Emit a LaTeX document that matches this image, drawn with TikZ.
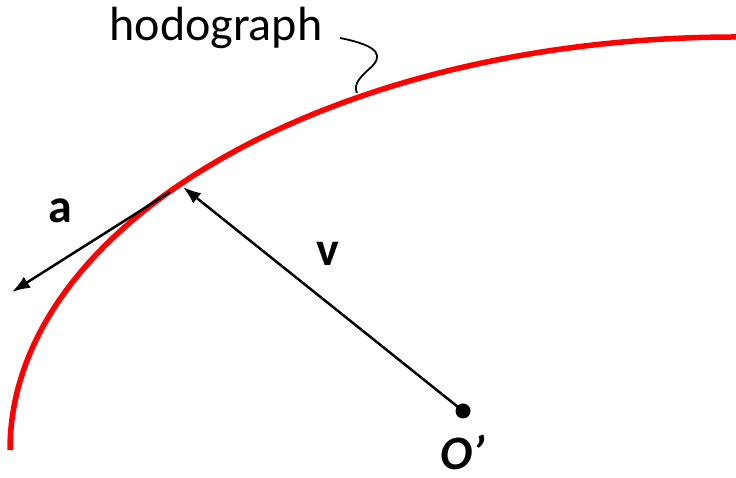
\documentclass[tikz,border=0pt]{standalone}
\usepackage{fontspec}
\setmainfont{Carlito}
\usetikzlibrary{arrows.meta}
\begin{document}
\begin{tikzpicture}[x=1pt,y=1pt,
  vec/.style={line width=2.5pt,-{Latex[length=18pt,width=13pt]}},
  lbl/.style={inner sep=0pt,font=\fontsize{48}{52}\selectfont\bfseries},
  hodo/.style={red,line width=5.5pt}]
\useasboundingbox (0,0) rectangle (736,478);
\draw[hodo] (736,441) arc[start angle=90,end angle=180,x radius=726,y radius=413];
\coordinate (P) at (183,291);
\coordinate (Pa) at (170,286);
\coordinate (A) at (12,186);
\node[circle,fill=black,inner sep=0pt,minimum size=15pt] (O) at (463,67) {};
\draw[vec] (O.center) -- (P);
\draw[vec] (Pa) -- (A);
\node[lbl] (la) at (60,267) {a};
\node[lbl] (lv) at (328,224) {v};
\node[lbl,font=\fontsize{48}{52}\selectfont\bfseries\itshape] (lo) at (463,26) {O’};
\node[inner sep=0pt,font=\fontsize{48}{52}\selectfont] (h) at (216,450) {hodograph};
\coordinate (w1) at (340,440);
\coordinate (w2) at (357,385);
\draw[line width=1.8pt] (w1) .. controls (380,432) and (385,422) .. (368,408) .. controls (357,398) and (354,392) .. (w2);
\end{tikzpicture}
\end{document}
